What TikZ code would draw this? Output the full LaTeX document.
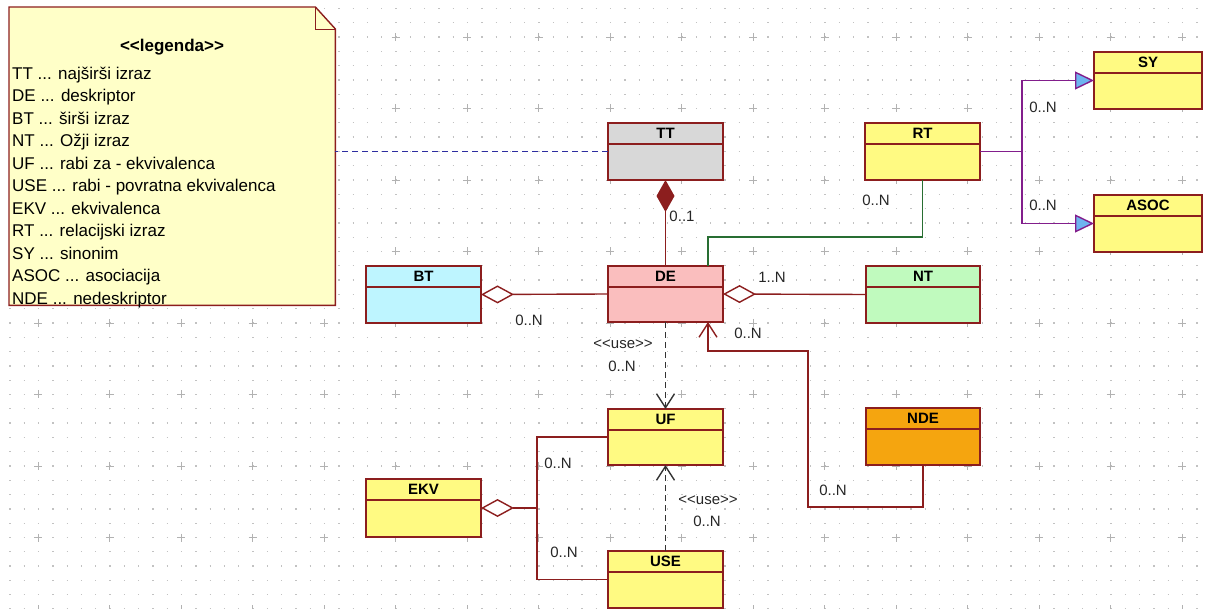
\documentclass[tikz,border=0pt]{standalone}
\usepackage{fontspec}
\setmainfont{Liberation Sans}[Ligatures=TeXOff]
\usetikzlibrary{arrows.meta}

\definecolor{rub}{RGB}{140,30,30}
\definecolor{sivo}{RGB}{216,216,216}
\definecolor{roza}{RGB}{250,190,190}
\definecolor{plavo}{RGB}{190,245,255}
\definecolor{zeleno}{RGB}{192,250,190}
\definecolor{zuto}{RGB}{255,250,130}
\definecolor{narancasto}{RGB}{245,165,15}
\definecolor{biljeska}{RGB}{255,255,200}
\definecolor{ljubicasto}{RGB}{130,30,140}
\definecolor{zelenacrta}{RGB}{40,110,50}
\definecolor{tamnoplavo}{RGB}{45,45,160}
\definecolor{trokut}{RGB}{110,180,240}

\tikzset{
  klasa/.style={draw=rub, line width=1.4pt, inner sep=0pt, outer sep=0pt},
  crta/.style={draw=rub, line width=1.4pt},
  ime/.style={font=\fontsize{15}{18}\selectfont\bfseries},
  kard/.style={font=\fontsize{15}{18}\selectfont, text=black!85, fill=white, inner sep=1pt},
  legtekst/.style={font=\fontsize{17}{20}\selectfont, inner sep=0pt},
  tocke/.style={draw=black!24, line width=1.3pt, dash pattern=on 1.3pt off 13pt},
  plus/.style={draw=black!30, line width=0.8pt},
  ovisnost/.style={draw=black!80, line width=1.4pt, dash pattern=on 6pt off 4pt},
  Barb/.tip={Straight Barb[length=14pt, width=18pt]},
  Agreg/.tip={Diamond[fill=white, length=33pt, width=18pt]},
  Kompoz/.tip={Diamond[fill=rub, length=32pt, width=18pt]},
  Nasljed/.tip={Triangle[fill=trokut, length=19pt, width=18pt]}
}

\newcommand{\klasa}[6]{%
  \node[klasa, fill=#2, minimum width=#5, minimum height=#6, anchor=north west] (#1) at (#3,#4) {};
  \draw[crta] ([yshift=-21pt]#1.north west) -- ([yshift=-21pt]#1.north east);
  \node[ime] (#1-ime) at ([yshift=-10.5pt]#1.north) {#1};
}

\begin{document}
\begin{tikzpicture}[x=1pt,y=-1pt]
    \useasboundingbox (0,0) rectangle (1208,609);
    % mreza
    \foreach \j in {0,...,42}
        \draw[tocke] (9.35,8.4+14.3*\j) -- (1208,8.4+14.3*\j);
    \foreach \i in {0,...,16}{
        \foreach \j in {0,...,8}{
            \draw[plus] (38+71.5*\i,33+71.5*\j) -- ++(0,8) (34+71.5*\i,37+71.5*\j) -- ++(8,0);
        }
    }

    % legenda
    \node[minimum width=326pt, minimum height=298pt, inner sep=0pt, anchor=north west] (legenda) at (9,7) {};
    \draw[crta, fill=biljeska] (legenda.north west) -- ([xshift=-20pt]legenda.north east)
        -- ([yshift=-22pt]legenda.north east) -- (legenda.south east) -- (legenda.south west) -- cycle;
    \draw[crta, line width=0.9pt] ([xshift=-20pt]legenda.north east) -- ([xshift=-20pt,yshift=-22pt]legenda.north east)
        -- ([yshift=-22pt]legenda.north east);
    \node[legtekst, font=\fontsize{17}{20}\selectfont\bfseries] (leg-naslov) at (172,47) {<<legenda>>};
    \foreach \k/\o [count=\i] in {TT/najširši izraz, DE/deskriptor, BT/širši izraz, NT/Ožji izraz,
        UF/rabi za - ekvivalenca, USE/rabi - povratna ekvivalenca, EKV/ekvivalenca,
        RT/relacijski izraz, SY/sinonim, ASOC/asociacija, NDE/nedeskriptor}{
        \node[legtekst, anchor=base west] (leg-\i) at (12,79.5+22.5*\i-22.5) {\k\ ... \o};
    }

    % klase
    \klasa{TT}{sivo}{608}{123}{115pt}{57pt}
    \klasa{DE}{roza}{608}{266}{115pt}{56pt}
    \klasa{RT}{zuto}{865}{123}{115pt}{57pt}
    \klasa{SY}{zuto}{1094}{52}{108pt}{57pt}
    \klasa{ASOC}{zuto}{1094}{195}{108pt}{57pt}
    \klasa{BT}{plavo}{366}{266}{115pt}{57pt}
    \klasa{NT}{zeleno}{866}{266}{114pt}{57pt}
    \klasa{UF}{zuto}{608}{409}{115pt}{56pt}
    \klasa{USE}{zuto}{608}{551}{115pt}{57pt}
    \klasa{EKV}{zuto}{366}{479}{115pt}{58pt}
    \klasa{NDE}{narancasto}{866}{408}{114pt}{57pt}

    % veze
    \draw[draw=tamnoplavo, line width=1.4pt, dash pattern=on 6pt off 4pt] (TT.west) -- (TT.west -| legenda.east);
    \draw[crta, -{Kompoz}] (DE.north) -- (TT.south);
    \draw[crta, -{Agreg}] (DE.west) -- (BT.east);
    \draw[crta, -{Agreg}] (NT.west) -- (DE.east);

    \coordinate (rt-v) at (1022,151.5);
    \draw[draw=ljubicasto, line width=1.4pt, -{Nasljed}] (RT.east) -- (rt-v) |- (SY.west);
    \draw[draw=ljubicasto, line width=1.4pt, -{Nasljed}] (rt-v) |- (ASOC.west);

    \coordinate (zel) at (708,237);
    \draw[draw=zelenacrta, line width=1.4pt] (RT.south) |- (zel) -- (zel |- DE.north);

    \coordinate (nde-1) at (808,507);
    \coordinate (nde-2) at (808,351);
    \draw[crta, -{Barb}] (NDE.south) |- (nde-1) -- (nde-2) -| (zel |- DE.south);

    \draw[ovisnost, -{Barb}] (DE.south) -- (UF.north);
    \draw[ovisnost, -{Barb}] (USE.north) -- (UF.south);

    \coordinate (ekv) at (537,508);
    \draw[crta, {Agreg}-] (EKV.east) -- (ekv);
    \draw[crta] (ekv) |- (UF.west);
    \draw[crta] (ekv) |- (USE.west);

    % kardinalnosti
    \node[kard] (k-tt) at (682,216) {0..1};
    \node[kard] (k-bt) at (529,320) {0..N};
    \node[kard] (k-nt1) at (772,277) {1..N};
    \node[kard] (k-nt2) at (748,333) {0..N};
    \node[kard] (k-rt) at (876,200) {0..N};
    \node[kard] (k-sy) at (1043,107) {0..N};
    \node[kard] (k-asoc) at (1043,205) {0..N};
    \node[kard] (k-nde) at (833,490) {0..N};
    \node[kard] (k-use1) at (623,344) {<<use>>};
    \node[kard] (k-use1n) at (622,366) {0..N};
    \node[kard] (k-use2) at (708,500) {<<use>>};
    \node[kard] (k-use2n) at (707,521) {0..N};
    \node[kard] (k-ekv1) at (558,463) {0..N};
    \node[kard] (k-ekv2) at (564,552) {0..N};
\end{tikzpicture}
\end{document}
